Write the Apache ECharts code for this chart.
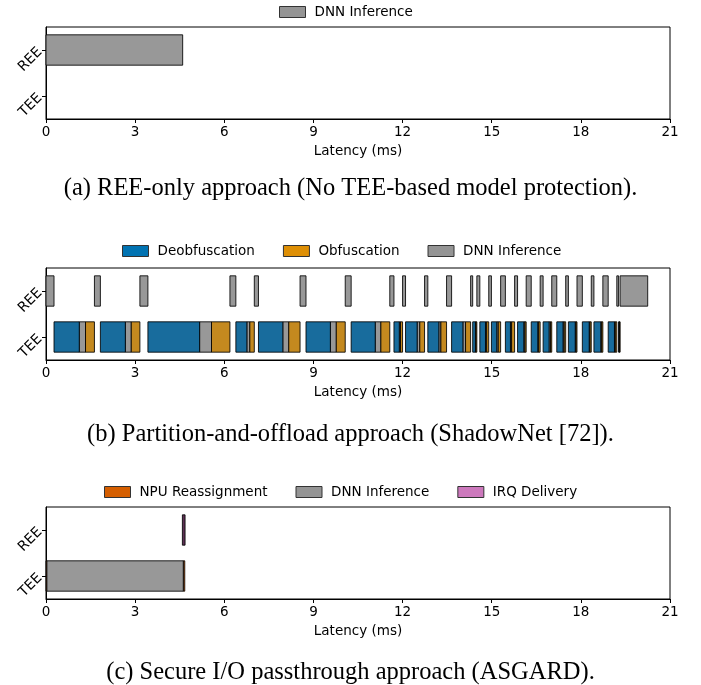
<!DOCTYPE html>
<html>
<head>
<meta charset="utf-8">
<script src="https://cdn.jsdelivr.net/npm/echarts@6/dist/echarts.min.js"></script>
<style>
  html, body { margin: 0; padding: 0; background: #fff; }
  #chart { width: 701px; height: 685px; }
</style>
</head>
<body>
<div id="chart"></div>
<script>
// rows (top to bottom)
const rows = ['REE', 'TEE'];
const xTicks = [0, 3, 6, 9, 12, 15, 18, 21];

// (a) REE-only: [start, end] in ms
const aInferRee = [[0, 4.6]];

// (b) Partition-and-offload (ShadowNet)
const bInferRee = [
    [0, 0.27], [1.63, 1.83], [3.16, 3.43], [6.19, 6.39], [7.01, 7.15], [8.55, 8.75],
    [10.07, 10.27], [11.57, 11.71], [12.0, 12.1], [12.74, 12.85], [13.48, 13.65],
    [14.29, 14.36], [14.5, 14.6], [14.9, 14.99], [15.3, 15.46], [15.77, 15.87],
    [16.16, 16.33], [16.63, 16.73], [17.02, 17.19], [17.49, 17.58], [17.87, 18.05],
    [18.35, 18.44], [18.74, 18.92], [19.21, 19.27], [19.32, 20.25]
];
const bDeobf = [
    [0.27, 1.12], [1.83, 2.67], [3.43, 5.17], [6.39, 6.76], [7.15, 7.97], [8.75, 9.57],
    [10.27, 11.08], [11.71, 11.89], [12.1, 12.49], [12.85, 13.22], [13.65, 14.03],
    [14.36, 14.45], [14.6, 14.79], [14.99, 15.17], [15.46, 15.63], [15.87, 16.08],
    [16.33, 16.55], [16.73, 16.93], [17.19, 17.4], [17.58, 17.81], [18.05, 18.28],
    [18.44, 18.67], [18.92, 19.13], [19.27, 19.29]
];
const bInferTee = [
    [1.12, 1.33], [2.67, 2.87], [5.17, 5.57], [6.76, 6.86], [7.97, 8.17], [9.57, 9.77],
    [11.08, 11.27], [11.89, 11.93], [12.49, 12.58], [13.22, 13.29], [14.03, 14.12],
    [14.45, 14.47], [14.79, 14.83], [15.17, 15.22], [15.63, 15.67], [16.08, 16.12],
    [16.55, 16.58], [16.93, 16.98], [17.4, 17.44], [17.81, 17.84], [18.28, 18.31],
    [18.67, 18.7], [19.13, 19.16], [19.29, 19.3]
];
const bObf = [
    [1.33, 1.63], [2.87, 3.16], [5.57, 6.19], [6.86, 7.01], [8.17, 8.55], [9.77, 10.07],
    [11.27, 11.57], [11.93, 12.0], [12.58, 12.74], [13.29, 13.48], [14.12, 14.29],
    [14.47, 14.5], [14.83, 14.9], [15.22, 15.3], [15.67, 15.77], [16.12, 16.16],
    [16.58, 16.63], [16.98, 17.02], [17.44, 17.49], [17.84, 17.87], [18.31, 18.35],
    [18.7, 18.74], [19.16, 19.21], [19.3, 19.32]
];

// (c) Secure I/O passthrough (ASGARD)
const cNpuTee = [[0, 0.03], [4.62, 4.67]];
const cInferTee = [[0.03, 4.62]];
const cIrqRee = [[4.59, 4.68]];

const colors = {
    deobf: '#186c9d', obf: '#c4891f', infer: '#989898', npu: '#d55e00', irq: '#5e3054'
};
const legendColors = {
    deobf: '#0173b2', obf: '#de8f05', infer: '#949494', npu: '#d55e00', irq: '#cc78bc'
};

const gridTops = [27, 268, 507];
const FONT = 'DejaVu Sans';
const FS = 13.5;

function toData(segs, row) {
    return segs.map(s => [s[0], s[1], row]);
}

function renderBar(params, api) {
    const a = api.coord([api.value(0), api.value(2)]);
    const b = api.coord([api.value(1), api.value(2)]);
    const h = api.size([0, 1])[1] * 0.66;
    return {
        type: 'rect',
        shape: { x: a[0], y: a[1] - h / 2, width: Math.max(b[0] - a[0], 0.5), height: h },
        style: api.style({ stroke: 'rgba(0,0,0,0.85)', lineWidth: 1 })
    };
}

function barSeries(name, panel, data, color) {
    return {
        type: 'custom',
        name: name,
        xAxisIndex: panel,
        yAxisIndex: panel,
        renderItem: renderBar,
        encode: { x: [0, 1], y: 2 },
        itemStyle: { color: color },
        data: data
    };
}

const chart = echarts.init(document.getElementById('chart'));

const grids = gridTops.map(t => ({
    left: 46, width: 624, top: t, height: 92,
    show: true, borderColor: '#000', borderWidth: 1
}));

const xAxes = gridTops.map((t, i) => ({
    type: 'value', gridIndex: i, min: 0, max: 21, interval: 3,
    name: 'Latency (ms)', nameLocation: 'middle', nameGap: 25,
    nameTextStyle: { color: '#000', fontFamily: FONT, fontSize: FS },
    axisLine: { show: true, lineStyle: { color: '#000' } },
    axisTick: { show: true, length: 4, lineStyle: { color: '#000' } },
    axisLabel: { color: '#000', fontFamily: FONT, fontSize: FS, margin: 6,
        formatter: v => xTicks.includes(v) ? String(v) : '' },
    splitLine: { show: false }
}));

const yAxes = gridTops.map((t, i) => ({
    type: 'category', gridIndex: i, data: rows, inverse: true,
    axisLine: { show: true, lineStyle: { color: '#000' } },
    axisTick: { show: true, length: 4, alignWithLabel: true, lineStyle: { color: '#000' } },
    axisLabel: { color: '#000', fontFamily: FONT, fontSize: 14, rotate: 45, margin: 6 },
    splitLine: { show: false }
}));

function legendItem(name, key) {
    return { name: name, icon: 'rect',
        itemStyle: { color: legendColors[key], borderColor: '#333', borderWidth: 1 } };
}
const legendBase = {
    itemWidth: 26, itemHeight: 11, itemGap: 28, selectedMode: false,
    textStyle: { color: '#000', fontFamily: FONT, fontSize: FS, padding: [0, 0, 0, 4] }
};

const captions = [
    ['(a) REE-only approach (No TEE-based model protection).', 171],
    ['(b) Partition-and-offload approach (ShadowNet [72]).', 417],
    ['(c) Secure I/O passthrough approach (ASGARD).', 655]
];

chart.setOption({
    animation: false,
    grid: grids,
    xAxis: xAxes,
    yAxis: yAxes,
    legend: [
        Object.assign({}, legendBase, { left: 274, top: 0, data: [legendItem('DNN Inference', 'infer')] }),
        Object.assign({}, legendBase, { left: 117, top: 239, data: [
            legendItem('Deobfuscation', 'deobf'), legendItem('Obfuscation', 'obf'),
            legendItem('DNN Inference', 'infer')] }),
        Object.assign({}, legendBase, { left: 99, top: 480, data: [
            legendItem('NPU Reassignment', 'npu'), legendItem('DNN Inference', 'infer'),
            legendItem('IRQ Delivery', 'irq')] })
    ],
    title: captions.map(c => ({
        text: c[0], left: 'center', top: c[1],
        textStyle: { fontFamily: 'Liberation Serif', fontWeight: 'normal', fontSize: 24.5, color: '#000' }
    })),
    series: [
        barSeries('DNN Inference', 0, toData(aInferRee, 0), colors.infer),

        barSeries('DNN Inference', 1, toData(bInferRee, 0).concat(toData(bInferTee, 1)), colors.infer),
        barSeries('Deobfuscation', 1, toData(bDeobf, 1), colors.deobf),
        barSeries('Obfuscation', 1, toData(bObf, 1), colors.obf),

        barSeries('NPU Reassignment', 2, toData(cNpuTee, 1), colors.npu),
        barSeries('DNN Inference', 2, toData(cInferTee, 1), colors.infer),
        barSeries('IRQ Delivery', 2, toData(cIrqRee, 0), colors.irq)
    ]
});

window.addEventListener('resize', () => chart.resize());
</script>
</body>
</html>
